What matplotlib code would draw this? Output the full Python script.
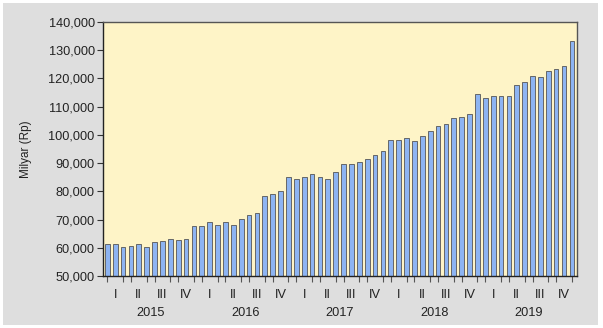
import numpy as np
import matplotlib.pyplot as plt
from matplotlib.patches import Rectangle
from matplotlib.ticker import FuncFormatter

# --- данные: помесячно 2015-2019, млрд рупий ---
YEARS = ["2015", "2016", "2017", "2018", "2019"]
QUARTERS = ["I", "II", "III", "IV"]
VALUES = [
    61300, 61300, 60400, 60600, 61300, 60100, 62000, 62300, 63000, 62700, 63200, 67700,
    67700, 69000, 68000, 69000, 68000, 70200, 71500, 72400, 78300, 79200, 80200, 85200,
    84300, 85200, 86000, 85000, 84500, 87000, 89600, 89800, 90500, 91300, 92900, 94400,
    98100, 98300, 98900, 98000, 99600, 101400, 103000, 103700, 106000, 106200, 107300, 114400,
    112900, 113700, 113700, 113800, 117500, 118700, 121000, 120500, 122700, 123400, 124500, 133100,
]

plt.rcParams['font.family'] = ['Liberation Sans', 'DejaVu Sans']

fig = plt.figure(figsize=(6.03, 3.28), dpi=100, facecolor="white")
# серая подложка
fig.patches.append(Rectangle((3 / 603, 3 / 328), 595 / 603, 322 / 328,
                             transform=fig.transFigure, facecolor="#dedede",
                             edgecolor="none", zorder=-10))

ax = fig.add_axes([103 / 603, 1 - 276 / 328, 474 / 603, 254 / 328])
ax.set_facecolor("#fef4c7")

x = np.arange(len(VALUES))
ax.bar(x, VALUES, width=0.6, color="#8db4f2", edgecolor="#555555", linewidth=0.6)

ax.set_xlim(-0.55, len(VALUES) - 0.35)
ax.set_ylim(50000, 140000)
ax.set_yticks(np.arange(50000, 140001, 10000))
ax.yaxis.set_major_formatter(FuncFormatter(lambda v, p: f"{int(v):,}"))
ax.tick_params(axis="y", length=4, width=0.8, color="#333333", labelsize=9.2,
               labelcolor="#222222", pad=2)

# подписи кварталов (в середине квартала) и деления по месяцам
q_pos = [y * 12 + q * 3 + 1 for y in range(len(YEARS)) for q in range(4)]
ax.set_xticks(q_pos)
ax.set_xticklabels(QUARTERS * len(YEARS))
ax.set_xticks(x, minor=True)
ax.tick_params(axis="x", which="major", length=0, labelsize=9.2, labelcolor="#222222", pad=9)
ax.tick_params(axis="x", which="minor", length=4, width=0.8, color="#555555", direction="out")

for i, yr in enumerate(YEARS):
    ax.text(i * 12 + 5.5, -0.145, yr, transform=ax.get_xaxis_transform(),
            ha="center", va="center", fontsize=9.2, color="#222222")

ax.set_ylabel("Milyar (Rp)", fontsize=8.5, color="#222222", labelpad=12)

for s in ["left", "bottom"]:
    ax.spines[s].set_color("#222222")
    ax.spines[s].set_linewidth(1.0)
for s in ["top", "right"]:
    ax.spines[s].set_color("#555555")
    ax.spines[s].set_linewidth(1.0)

fig.savefig("out.png", dpi=100, facecolor=fig.get_facecolor())
